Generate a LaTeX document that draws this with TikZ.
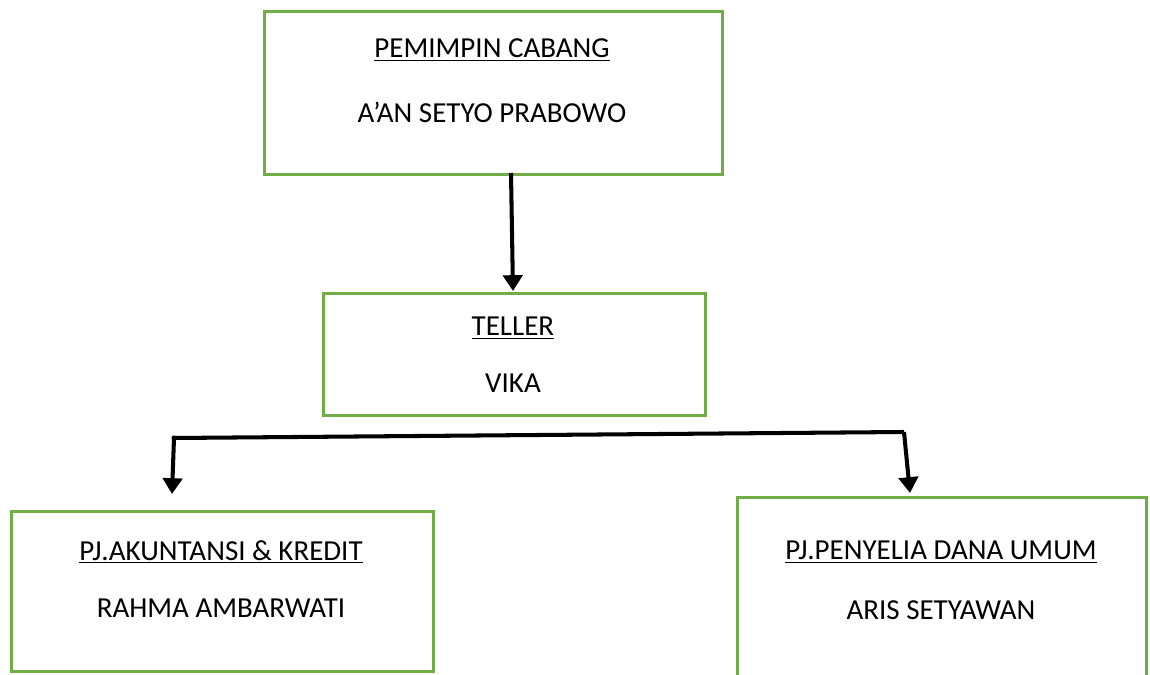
\documentclass[tikz,border=0pt]{standalone}
\usepackage{fontspec}
\setmainfont{Carlito}
\usetikzlibrary{arrows.meta, positioning}

\definecolor{boxgreen}{HTML}{70AD47}

\begin{document}
\begin{tikzpicture}[x=0.02cm, y=-0.02cm,
        box/.style={draw=boxgreen, line width=1.7pt, anchor=north west, inner sep=0pt},
        label/.style={font=\fontsize{16.5}{20}\selectfont, inner sep=0pt},
        arrow/.style={-{Triangle[length=9pt, width=11pt]}, line width=2.3pt},
        link/.style={line width=2.3pt}
    ]
        \useasboundingbox (0,0) rectangle (1150,675);
        \clip (0,0) rectangle (1150,675);

        % --- Pemimpin cabang ---
        \node[box, minimum width=458*0.02cm, minimum height=163*0.02cm] (pimpinan) at (263,10) {};
        \node[label] (pimpinanTitle) at (492,50) {\underline{PEMIMPIN CABANG}};
        \node[label] (pimpinanName) at (492,112) {A’AN SETYO PRABOWO};

        % --- Teller ---
        \node[box, minimum width=382*0.02cm, minimum height=122*0.02cm] (teller) at (322,292) {};
        \node[label] (tellerTitle) at (513,328) {\underline{TELLER}};
        \node[label] (tellerName) at (513,383) {VIKA};

        % --- PJ akuntansi & kredit ---
        \node[box, minimum width=422*0.02cm, minimum height=160*0.02cm] (akuntansi) at (10,510) {};
        \node[label] (akuntansiTitle) at (221,552) {\underline{PJ.AKUNTANSI \& KREDIT}};
        \node[label] (akuntansiName) at (221,608) {RAHMA AMBARWATI};

        % --- PJ penyelia dana umum (runs off the page) ---
        \node[box, minimum width=409*0.02cm, minimum height=220*0.02cm] (penyelia) at (736,496) {};
        \node[label] (penyeliaTitle) at (941,552) {\underline{PJ.PENYELIA DANA UMUM}};
        \node[label] (penyeliaName) at (941,610) {ARIS SETYAWAN};

        % --- Connectors ---
        \coordinate (pimpinanOut) at (511,173);
        \coordinate (tellerIn) at (513,291);
        \coordinate (branchL) at (174,438);
        \coordinate (branchR) at (904,432);
        \coordinate (akuntansiIn) at (172,494);
        \coordinate (penyeliaIn) at (910,493);

        \draw[arrow] (pimpinanOut) -- (tellerIn);
        \draw[link] (branchL) -- (branchR);
        \fill (branchL) circle (2.5);
        \draw[arrow] (branchL) -- (akuntansiIn);
        \draw[arrow] (branchR) -- (penyeliaIn);

    \end{tikzpicture}
\end{document}
